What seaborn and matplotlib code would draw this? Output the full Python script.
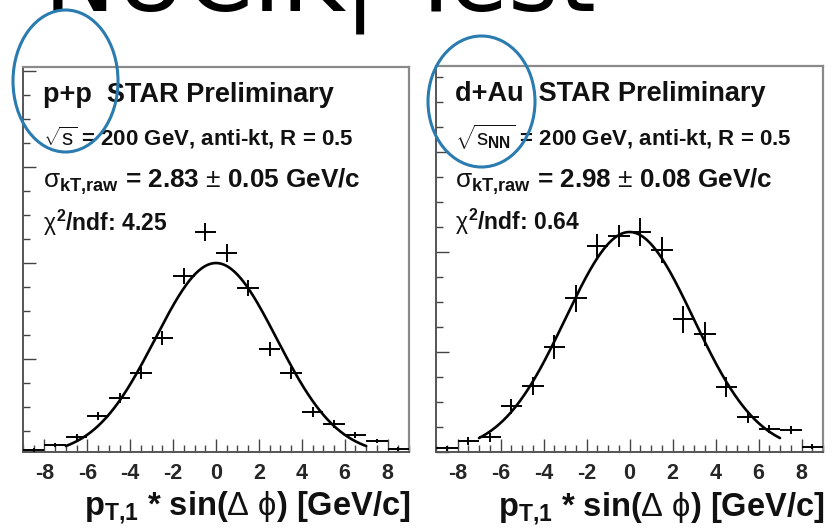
import numpy as np
import pandas as pd
import matplotlib
matplotlib.use("Agg")
import matplotlib.pyplot as plt
from matplotlib.patches import Ellipse
from matplotlib.ticker import MultipleLocator
import seaborn as sns

# ---- data -------------------------------------------------------------
bin_centers = [-8.5, -7.5, -6.5, -5.5, -4.5, -3.5, -2.5, -1.5, -0.5,
               0.5, 1.5, 2.5, 3.5, 4.5, 5.5, 6.5, 7.5, 8.5]
bin_half_width = 0.5

pp_counts = [0.21, 0.42, 0.76, 1.63, 2.38, 3.42, 4.88, 7.46, 9.29,
             8.42, 6.96, 4.42, 3.42, 1.79, 1.29, 0.83, 0.58, 0.25]
pp_errors = [0.08, 0.10, 0.12, 0.18, 0.20, 0.25, 0.30, 0.32, 0.36,
             0.36, 0.32, 0.30, 0.25, 0.20, 0.16, 0.12, 0.10, 0.08]

dau_counts = [0.15, 0.45, 0.59, 1.84, 2.65, 4.21, 6.15, 8.24, 8.64,
              8.81, 8.08, 5.31, 4.72, 2.61, 1.39, 0.91, 0.88, 0.21]
dau_errors = [0.10, 0.15, 0.18, 0.30, 0.37, 0.47, 0.53, 0.47, 0.44,
              0.56, 0.53, 0.53, 0.47, 0.40, 0.24, 0.16, 0.15, 0.10]

pp_amp, pp_sigma, pp_sigma_err, pp_chi2 = 8.0, 2.83, 0.05, 4.25
dau_amp, dau_sigma, dau_sigma_err, dau_chi2 = 8.8, 2.98, 0.08, 0.64
fit_range = (-7.0, 7.0)

x_ticks = [-8, -6, -4, -2, 0, 2, 4, 6, 8]
x_label = r"p$_{\mathbf{T{,}1}}$ * sin($\Delta$ $\phi$) [GeV/c]"
title_text = "NUCIK| Test"

# ---- style ------------------------------------------------------------
sns.set_theme(style="ticks")
plt.rcParams.update({
    "font.family": ["Liberation Sans", "DejaVu Sans"],
    "mathtext.fontset": "custom",
    "mathtext.rm": "Liberation Sans",
    "mathtext.it": "Liberation Sans",
    "mathtext.bf": "Liberation Sans:bold",
    "mathtext.sf": "Liberation Sans",
    "text.color": "#111111",
})

W, H = 832, 530
fig = plt.figure(figsize=(W / 100, H / 100), dpi=100)
fig.patch.set_facecolor("white")


def px_axes(x0, y_top, x1, y_bot):
    return fig.add_axes([x0 / W, 1 - y_bot / H, (x1 - x0) / W, (y_bot - y_top) / H])


def draw_panel(ax, counts, errors, amp, sigma, ylim):
    df = pd.DataFrame({"x": bin_centers, "y": counts, "err": errors})
    ax.errorbar(df["x"], df["y"], xerr=bin_half_width, yerr=df["err"],
                fmt="none", ecolor="black", elinewidth=1.4, capsize=0, zorder=3)
    xf = np.linspace(fit_range[0], fit_range[1], 300)
    fit = pd.DataFrame({"x": xf, "y": amp * np.exp(-0.5 * (xf / sigma) ** 2)})
    sns.lineplot(data=fit, x="x", y="y", ax=ax, color="black", linewidth=1.9, zorder=4)

    ax.set_xlim(-9, 9)
    ax.set_ylim(*ylim)
    ax.set_xticks(x_ticks)
    ax.set_xticklabels([str(t) for t in x_ticks], fontsize=15.5, fontweight="bold")
    ax.xaxis.set_minor_locator(MultipleLocator(0.5))
    ax.yaxis.set_major_locator(MultipleLocator(4))
    ax.yaxis.set_minor_locator(MultipleLocator(1))
    ax.set_yticklabels([])
    ax.tick_params(axis="x", which="major", direction="in", length=9.5, width=1.0,
                   color="#444444", pad=8, top=False)
    ax.tick_params(axis="x", which="minor", direction="in", length=5, width=1.0,
                   color="#444444", top=False)
    ax.tick_params(axis="y", which="major", direction="in", length=9, width=1.0,
                   color="#444444", right=False)
    ax.tick_params(axis="y", which="minor", direction="in", length=5, width=1.0,
                   color="#444444", right=False)
    ax.set_xlabel("")
    ax.set_ylabel("")
    for side in ["left", "bottom"]:
        ax.spines[side].set_color("#555555")
        ax.spines[side].set_linewidth(1.4)
    for side in ["top", "right"]:
        ax.spines[side].set_color("#8a8a8a")
        ax.spines[side].set_linewidth(1.6)
    ax.text(1.003, -0.165, x_label, transform=ax.transAxes, ha="right",
            va="baseline", fontsize=23.5, fontweight="bold")


ax_pp = px_axes(23, 67, 409, 452)
ax_da = px_axes(436, 66, 823, 452)

draw_panel(ax_pp, pp_counts, pp_errors, pp_amp, pp_sigma, (0.125, 16.17))
draw_panel(ax_da, dau_counts, dau_errors, dau_amp, dau_sigma, (0.0, 15.44))

# ---- annotations --------------------------------------------------------
sub = r"\mathbf{kT{,}raw}"
tx = 0.052
ax_pp.text(tx, 0.928, "p+p  STAR Preliminary", transform=ax_pp.transAxes,
           fontsize=19.5, fontweight="bold", va="center")
ax_pp.text(tx, 0.816, r"$\sqrt{s}$ = 200 GeV, anti-kt, R = 0.5", transform=ax_pp.transAxes,
           fontsize=16, fontweight="bold", va="center")
ax_pp.text(tx, 0.701,
           rf"$\sigma_{{{sub}}}$ = {pp_sigma:.2f} $\pm$ {pp_sigma_err:.2f} GeV/c",
           transform=ax_pp.transAxes, fontsize=18.8, fontweight="bold", va="center")
ax_pp.text(tx, 0.595, rf"$\chi^{{\mathbf{{2}}}}$/ndf: {pp_chi2:.2f}", transform=ax_pp.transAxes,
           fontsize=16.5, fontweight="bold", va="center")

tx2 = 0.049
ax_da.text(tx2, 0.928, "d+Au  STAR Preliminary", transform=ax_da.transAxes,
           fontsize=19.5, fontweight="bold", va="center")
ax_da.text(tx2, 0.816, r"$\sqrt{s_{\mathbf{NN}}}$ = 200 GeV, anti-kt, R = 0.5",
           transform=ax_da.transAxes, fontsize=16, fontweight="bold", va="center")
ax_da.text(tx2, 0.701,
           rf"$\sigma_{{{sub}}}$ = {dau_sigma:.2f} $\pm$ {dau_sigma_err:.2f} GeV/c",
           transform=ax_da.transAxes, fontsize=18.8, fontweight="bold", va="center")
ax_da.text(tx2, 0.595, rf"$\chi^{{\mathbf{{2}}}}$/ndf: {dau_chi2:.2f}", transform=ax_da.transAxes,
           fontsize=16.5, fontweight="bold", va="center")

# slide title, running off the top edge
fig.text(44 / W, 1 - 10 / H, title_text, fontsize=69, va="baseline", ha="left",
         family="DejaVu Sans", color="black")

# highlight rings around the collision systems
ring_color = "#2a7bb0"
for cx, cy, w, h in [(65.5, 81, 105, 142), (481.5, 101.5, 107, 131)]:
    e = Ellipse((cx / W, 1 - cy / H), w / W, h / H, transform=fig.transFigure,
                fill=False, edgecolor=ring_color, linewidth=2.2, zorder=10)
    fig.patches.append(e)

fig.savefig("out.png", dpi=100, facecolor="white")
